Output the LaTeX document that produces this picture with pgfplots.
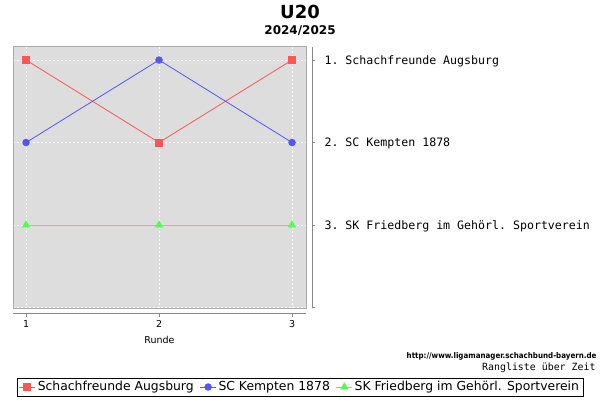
\documentclass[border=0pt]{standalone}
\usepackage{pgfplots}
\pgfplotsset{compat=1.18}
\usepackage{fontspec}
\setmainfont{DejaVu Sans}
\setmonofont{DejaVu Sans Mono}
\newfontfamily\condfont{DejaVu Sans Condensed}
\definecolor{bgray}{HTML}{DDDDDD}
\definecolor{bordergray}{HTML}{AAAAAA}
\definecolor{axgray}{HTML}{888888}
\definecolor{sred}{HTML}{FF5555}
\definecolor{sblue}{HTML}{5555FF}
\definecolor{sgreen}{HTML}{55FF55}
\begin{document}
\begin{tikzpicture}
% picture frame 600x400 px, origin bottom left, y = 400 - pixel row
\useasboundingbox (0bp,0bp) rectangle (600bp,400bp);
\node[font=\bfseries\fontsize{18bp}{20bp}\selectfont] at (300bp,388bp) {U20};
\node[font=\bfseries\fontsize{12bp}{14bp}\selectfont] at (300bp,369bp) {2024/2025};

% plot area
\begin{axis}[
  at={(13bp,92bp)}, anchor=south west, scale only axis,
  width=293bp, height=261bp,
  xmin=0.902, xmax=3.105, ymin=0.842, ymax=4.006, y dir=reverse,
  axis background/.style={fill=bgray},
  axis line style={draw=bordergray, line width=1bp},
  xtick={1,2,3}, ytick={1,2,3,4},
  xticklabels={}, yticklabels={}, major tick length=0pt,
  grid=major, major grid style={white!90!bgray, line width=0.4bp, dash pattern=on 2bp off 2bp},
  legend columns=-1,
  legend style={at={(0.9795,-0.3027)}, anchor=center, draw=black, line width=0.8bp,
    font=\fontsize{12.4bp}{14bp}\selectfont, inner ysep=1.5bp, inner xsep=2bp,
    /tikz/every even column/.append style={column sep=4bp}},
  legend image code/.code={\draw[#1, mark repeat=2, mark phase=2] plot coordinates {(0bp,0bp) (8bp,0bp) (16bp,0bp)};},
  clip=false,
]
\addplot[sred, line width=0.8bp, mark=square*, mark size=3.5bp] coordinates {(1,1) (2,2) (3,1)};
\addplot[sblue, line width=0.8bp, mark=*, mark size=3.3bp] coordinates {(1,2) (2,1) (3,2)};
\addplot[sgreen, line width=0.8bp, mark=triangle*, mark size=4bp] coordinates {(1,3) (2,3) (3,3)};
\legend{Schachfreunde Augsburg, SC Kempten 1878, SK Friedberg im Gehörl. Sportverein}
\end{axis}

% x axis, offset below
\begin{axis}[
  at={(13bp,86bp)}, anchor=south west, scale only axis,
  width=293bp, height=1bp,
  xmin=0.902, xmax=3.105, ymin=0, ymax=1,
  axis x line*=bottom, axis y line=none,
  axis line style={draw=axgray, line width=1bp, -},
  xtick={1,2,3}, tick align=outside, major tick length=3bp,
  tick style={draw=axgray, line width=0.8bp},
  /pgf/number format/assume math mode=true,
  ticklabel style={font=\fontsize{9.5bp}{11bp}\selectfont},
  xlabel={Runde}, xlabel style={font=\fontsize{9.5bp}{11bp}\selectfont, yshift=-2bp},
]
\addplot[draw=none] coordinates {(1,0)};
\end{axis}

% rank axis, offset right
\begin{axis}[
  at={(311bp,92bp)}, anchor=south west, scale only axis,
  width=1bp, height=261bp,
  xmin=0, xmax=1, ymin=0.842, ymax=4.006, y dir=reverse,
  axis y line*=right, axis x line=none,
  axis line style={draw=axgray, line width=1bp, -},
  ytick={1,2,3,4}, tick align=outside, major tick length=3bp,
  tick style={draw=axgray, line width=0.8bp},
  yticklabels={1. Schachfreunde Augsburg, 2. SC Kempten 1878, 3. SK Friedberg im Gehörl. Sportverein, {}},
  yticklabel style={font=\ttfamily\fontsize{11.6bp}{13bp}\selectfont, anchor=west, xshift=6bp, yshift=-1bp},
]
\addplot[draw=none] coordinates {(0,1)};
\end{axis}

\node[anchor=east, font=\condfont\bfseries\fontsize{7.9bp}{9bp}\selectfont] at (600bp,44bp) {http://www.ligamanager.schachbund-bayern.de};
\node[anchor=east, font=\ttfamily\fontsize{9.9bp}{11bp}\selectfont] at (599bp,32bp) {Rangliste über Zeit};
\end{tikzpicture}
\end{document}
